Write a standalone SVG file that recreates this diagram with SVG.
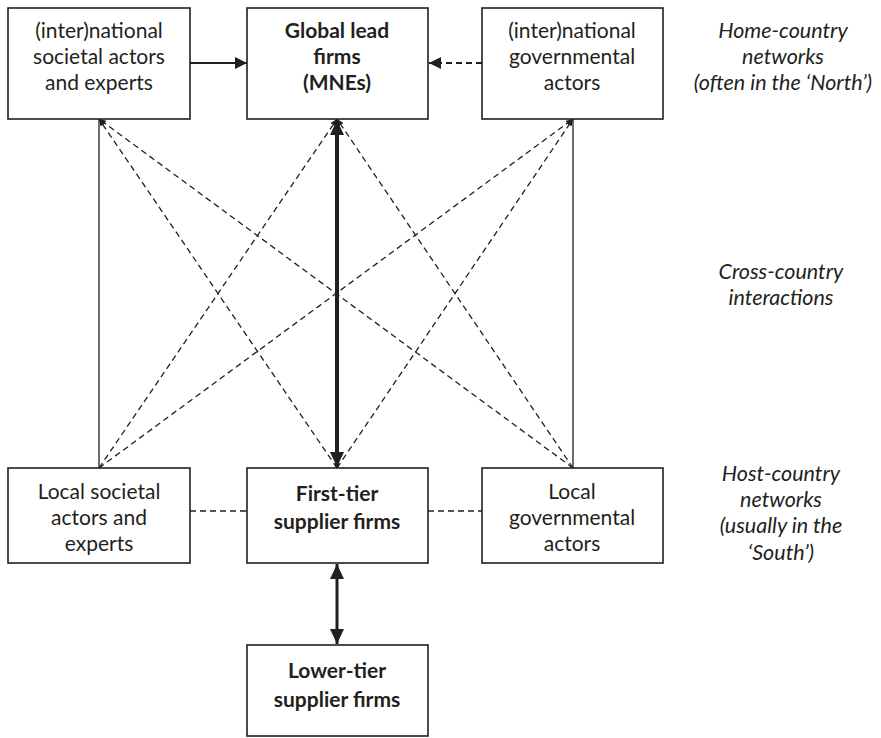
<svg xmlns="http://www.w3.org/2000/svg" width="881" height="738" viewBox="0 0 881 738">
<defs>
<style>
.box{fill:#fff;stroke:#231f20;stroke-width:1.6}
.t{font-family:Lato,"Open Sans","Liberation Sans",sans-serif;font-size:21px;fill:#231f20;text-anchor:middle}
.b{font-weight:bold}
.i{font-style:italic;font-size:21.5px}
.thin{stroke:#231f20;stroke-width:1.3;fill:none}
.dash{stroke:#231f20;stroke-width:1.3;fill:none;stroke-dasharray:6 4}
.thick{stroke:#231f20;stroke-width:4;fill:none}
</style>
<marker id="ah" markerUnits="userSpaceOnUse" markerWidth="14" markerHeight="12" refX="12" refY="6" orient="auto"><path d="M0,0 L12,6 L0,12 z" fill="#231f20"/></marker>
<marker id="ahs" markerUnits="userSpaceOnUse" markerWidth="8" markerHeight="8" refX="7" refY="3" orient="auto"><path d="M0,0 L7,3 L0,6 z" fill="#231f20"/></marker>
<marker id="ahb" markerUnits="userSpaceOnUse" markerWidth="16" markerHeight="14" refX="15" refY="7" orient="auto-start-reverse"><path d="M0,0 L15,7 L0,14 z" fill="#231f20"/></marker>
</defs>
<rect width="881" height="738" fill="#fff"/>
<g id="connectors">
<line class="thin" x1="99" y1="119" x2="99" y2="468"/>
<line class="thin" x1="573" y1="119" x2="573" y2="468"/>
<line class="dash" x1="99" y1="468" x2="337" y2="119" marker-start="url(#ahs)" marker-end="url(#ahs)"/>
<line class="dash" x1="99" y1="468" x2="573" y2="119" marker-start="url(#ahs)" marker-end="url(#ahs)"/>
<line class="dash" x1="337" y1="468" x2="99" y2="119" marker-start="url(#ahs)" marker-end="url(#ahs)"/>
<line class="dash" x1="337" y1="468" x2="573" y2="119" marker-start="url(#ahs)" marker-end="url(#ahs)"/>
<line class="dash" x1="573" y1="468" x2="99" y2="119" marker-start="url(#ahs)" marker-end="url(#ahs)"/>
<line class="dash" x1="573" y1="468" x2="337" y2="119" marker-start="url(#ahs)" marker-end="url(#ahs)"/>
<line class="thick" x1="337" y1="120" x2="337" y2="467" marker-start="url(#ahb)" marker-end="url(#ahb)"/>
<line class="thin" x1="190" y1="63" x2="247" y2="63" style="stroke-width:1.8" marker-end="url(#ah)"/>
<line class="dash" x1="482" y1="63" x2="429" y2="63" style="stroke-width:1.8" marker-end="url(#ah)"/>
<line class="dash" x1="190" y1="511" x2="247" y2="511"/>
<line class="dash" x1="428" y1="511" x2="482" y2="511"/>
<line class="thick" x1="337" y1="564" x2="337" y2="644" style="stroke-width:3" marker-start="url(#ahb)" marker-end="url(#ahb)"/>
</g>
<g id="n-intl-societal">
<rect class="box" x="8" y="8" width="182" height="111"/>
<text class="t" x="99" y="38">(inter)national</text>
<text class="t" x="99" y="64">societal actors</text>
<text class="t" x="99" y="90">and experts</text>
</g>
<g id="n-global-lead">
<rect class="box" x="247" y="8" width="181" height="111"/>
<text class="t b" x="337" y="38">Global lead</text>
<text class="t b" x="337" y="64">firms</text>
<text class="t b" x="337" y="90">(MNEs)</text>
</g>
<g id="n-intl-gov">
<rect class="box" x="482" y="8" width="181" height="111"/>
<text class="t" x="572" y="38">(inter)national</text>
<text class="t" x="572" y="64">governmental</text>
<text class="t" x="572" y="90">actors</text>
</g>
<g id="n-local-societal">
<rect class="box" x="8" y="468" width="182" height="95"/>
<text class="t" x="99" y="499">Local societal</text>
<text class="t" x="99" y="525">actors and</text>
<text class="t" x="99" y="551">experts</text>
</g>
<g id="n-first-tier">
<rect class="box" x="247" y="468" width="181" height="95"/>
<text class="t b" x="337" y="501">First-tier</text>
<text class="t b" x="337" y="529">supplier firms</text>
</g>
<g id="n-local-gov">
<rect class="box" x="482" y="468" width="181" height="95"/>
<text class="t" x="572" y="499">Local</text>
<text class="t" x="572" y="525">governmental</text>
<text class="t" x="572" y="551">actors</text>
</g>
<g id="n-lower-tier">
<rect class="box" x="247" y="645" width="181" height="91"/>
<text class="t b" x="337" y="678">Lower-tier</text>
<text class="t b" x="337" y="707">supplier firms</text>
</g>
<g id="labels">
<text class="t i" x="783" y="38">Home-country</text>
<text class="t i" x="783" y="64">networks</text>
<text class="t i" x="783" y="90">(often in the ‘North’)</text>
<text class="t i" x="781" y="279">Cross-country</text>
<text class="t i" x="781" y="305">interactions</text>
<text class="t i" x="781" y="481">Host-country</text>
<text class="t i" x="781" y="507">networks</text>
<text class="t i" x="781" y="533">(usually in the</text>
<text class="t i" x="781" y="560">‘South’)</text>
</g>
</svg>
